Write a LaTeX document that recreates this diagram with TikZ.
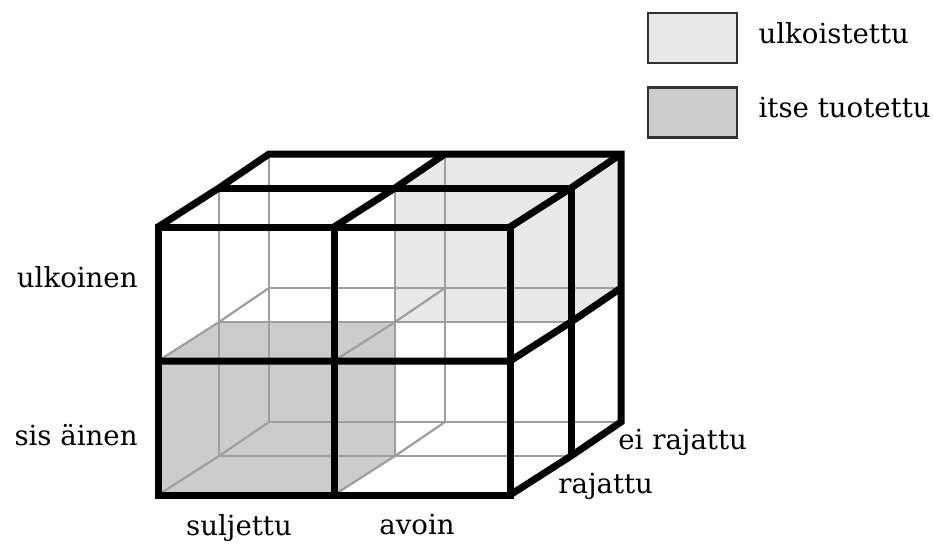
\documentclass[tikz,border=0pt]{standalone}
\usepackage{fontspec}
\setmainfont{DejaVu Serif}
\usepackage{tikz}
\usetikzlibrary{positioning}
\definecolor{outsourced}{gray}{0.91}
\definecolor{inhouse}{gray}{0.80}
\definecolor{gridgray}{gray}{0.62}
\tikzset{
  heavy/.style={line width=3.5pt, black},
  faint/.style={line width=1.1pt, gridgray},
  legbox/.style={draw=black!80, line width=1.2pt, minimum width=44.5pt, minimum height=25pt, inner sep=0pt},
  lab/.style={inner sep=0pt, font=\fontsize{13.8}{16}\selectfont}}
\begin{document}
\begin{tikzpicture}[x=0.5pt,y=-0.5pt]
	\useasboundingbox (0,0) rectangle (933,547);
	\coordinate (ftl) at (158,227);
	\coordinate (ftr) at (510,227);
	\coordinate (fbl) at (158,495);
	\coordinate (fbr) at (510,495);
	\coordinate (btr) at (621,154);
	\coordinate (bbr) at (621,422);
% filled cubes
\fill[outsourced] (395,322) -- (571,322) -- (621,288) -- (btr) -- (445,154) -- (395,188) -- cycle;
\fill[inhouse] (fbl) -- (334,495) -- (395,456) -- (395,322) -- (219,322) -- (158,361) -- cycle;
% hidden lattice
\draw[faint, shift={(61,-39)}] (158,227) rectangle (510,495) (334,227) -- (334,495) (158,361) -- (510,361);
\draw[faint, shift={(111,-73)}] (158,227) rectangle (510,495) (334,227) -- (334,495) (158,361) -- (510,361);
\draw[faint] (158,361) -- (219,322) -- (269,288) (fbl) -- (219,456) -- (269,422)
	(334,361) -- (395,322) -- (445,288) (334,495) -- (395,456) -- (445,422)
	(334,227) -- (395,188) -- (445,154);
% visible edges
\draw[heavy] (ftl) rectangle (fbr);
\draw[heavy] (ftl) -- (219,188) -- (269,154) -- (btr) -- (bbr) -- (571,456) -- (fbr);
\draw[heavy] (ftr) -- (571,188) -- (btr);
\draw[heavy] (219,188) -- (571,188) -- (571,456);
\draw[heavy] (334,227) -- (395,188) -- (445,154);
\draw[heavy] (334,227) -- (334,495);
\draw[heavy] (158,361) -- (510,361) -- (571,322) -- (621,288);
% axis labels
\node[lab, anchor=base east] (ulk) at (138,287) {ulkoinen};
\node[lab, anchor=base east] (sis) at (138,445) {sis äinen};
\node[lab, anchor=base] (sul) at (239,535) {suljettu};
\node[lab, anchor=base] (avo) at (417,534) {avoin};
\node[lab, anchor=base west] (raj) at (558,493) {rajattu};
\node[lab, anchor=base west] (eiraj) at (618,449) {ei rajattu};
% legend
\node[legbox, fill=outsourced] (box1) at (692.5,38) {};
\node[legbox, fill=inhouse] (box2) at (692.5,112.5) {};
\node[lab, right=10pt of box1, anchor=mid west] (leg1) {ulkoistettu};
\node[lab, right=10pt of box2, anchor=mid west] (leg2) {itse tuotettu};
\end{tikzpicture}
\end{document}
